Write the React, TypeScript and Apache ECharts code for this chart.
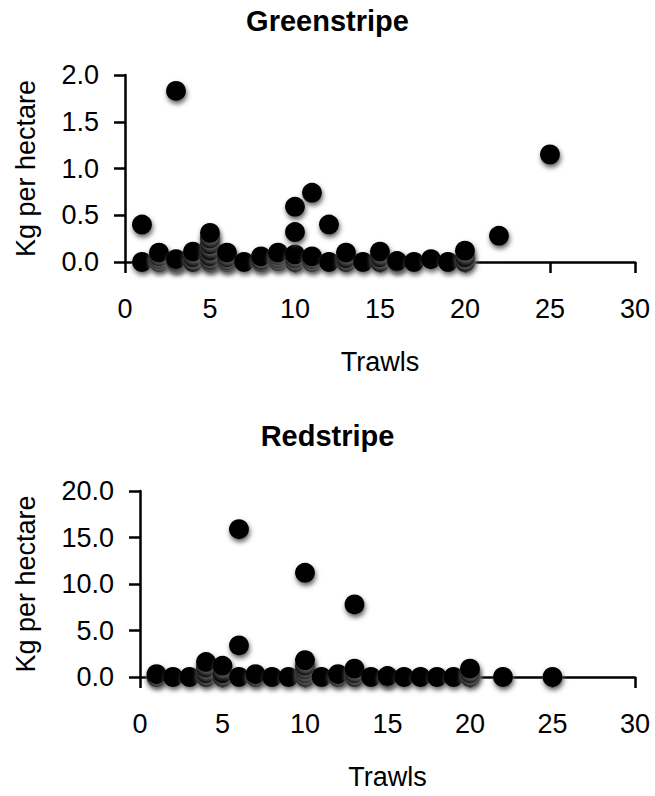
import React, { useEffect, useRef } from 'react';
import * as echarts from 'echarts';

// Greenstripe: trawl number and catch (kg per hectare)
const greenTrawls = [
  1, 1,
  2, 2, 2, 2,
  3, 3, 3, 3,
  4, 4, 4,
  5, 5, 5, 5, 5, 5, 5,
  6, 6, 6, 6,
  7,
  8, 8, 8,
  9, 9, 9, 9,
  10, 10, 10, 10, 10,
  11, 11, 11, 11,
  12, 12,
  13, 13, 13,
  14,
  15, 15, 15,
  16, 16,
  17,
  18,
  19,
  20, 20, 20,
  22,
  25,
];
const greenKg = [
  0.0, 0.40,
  0.0, 0.03, 0.06, 0.10,
  0.0, 0.01, 0.03, 1.83,
  0.0, 0.05, 0.11,
  0.0, 0.02, 0.06, 0.12, 0.19, 0.25, 0.31,
  0.0, 0.02, 0.05, 0.10,
  0.0,
  0.0, 0.02, 0.06,
  0.01, 0.04, 0.07, 0.10,
  0.0, 0.04, 0.08, 0.32, 0.59,
  0.0, 0.03, 0.06, 0.74,
  0.0, 0.40,
  0.0, 0.04, 0.10,
  0.0,
  0.0, 0.05, 0.11,
  0.0, 0.01,
  0.0,
  0.03,
  0.0,
  0.0, 0.05, 0.12,
  0.28,
  1.15,
];

// Redstripe: trawl number and catch (kg per hectare)
const redTrawls = [
  1, 1,
  2,
  3,
  4, 4, 4, 4,
  5, 5, 5,
  6, 6, 6,
  7, 7,
  8,
  9,
  10, 10, 10, 10, 10, 10,
  11,
  12, 12,
  13, 13, 13, 13,
  14,
  15, 15,
  16,
  17,
  18,
  19,
  20, 20, 20,
  22,
  25,
];
const redKg = [
  0.0, 0.3,
  0.0,
  0.0,
  0.0, 0.4, 1.0, 1.6,
  0.0, 0.4, 1.2,
  0.0, 3.4, 15.9,
  0.0, 0.3,
  0.0,
  0.0,
  0.0, 0.4, 0.8, 1.2, 1.8, 11.2,
  0.0,
  0.0, 0.3,
  0.0, 0.4, 0.9, 7.8,
  0.0,
  0.0, 0.1,
  0.0,
  0.0,
  0.0,
  0.0,
  0.0, 0.4, 0.9,
  0.0,
  0.0,
];

const xTicks = { min: 0, max: 30, interval: 5 };
const greenY = { min: 0, max: 2, interval: 0.5 };
const redY = { min: 0, max: 20, interval: 5 };

const titles = ['Greenstripe', 'Redstripe'];
const xName = 'Trawls';
const yName = 'Kg per hectare';

const FONT = 'Liberation Sans';

function pairs(xs: number[], ys: number[]) {
  return xs.map((x, i) => [x, ys[i]]);
}

function xAxis(gridIndex: number) {
  return {
    type: 'value',
    gridIndex,
    min: xTicks.min,
    max: xTicks.max,
    interval: xTicks.interval,
    name: xName,
    nameLocation: 'middle',
    nameGap: 86,
    nameTextStyle: { fontFamily: FONT, fontSize: 27, color: '#000' },
    axisLine: { show: true, lineStyle: { color: '#000', width: 2.5 } },
    axisTick: { show: true, inside: false, length: 11, lineStyle: { color: '#000', width: 2.5 } },
    axisLabel: { fontFamily: FONT, fontSize: 27, color: '#000', margin: 33 },
    splitLine: { show: false },
  };
}

function yAxis(gridIndex: number, cfg: { min: number; max: number; interval: number }, gap: number) {
  return {
    type: 'value',
    gridIndex,
    min: cfg.min,
    max: cfg.max,
    interval: cfg.interval,
    name: yName,
    nameLocation: 'middle',
    nameRotate: 90,
    nameGap: gap,
    nameTextStyle: { fontFamily: FONT, fontSize: 27, color: '#000' },
    axisLine: { show: true, lineStyle: { color: '#000', width: 2.5 } },
    axisTick: { show: true, inside: false, length: 11, lineStyle: { color: '#000', width: 2.5 } },
    axisLabel: {
      fontFamily: FONT,
      fontSize: 27,
      color: '#000',
      margin: 26,
      formatter: (v: number) => v.toFixed(1),
    },
    splitLine: { show: false },
  };
}

const markerStyle = {
  color: '#000',
  opacity: 1,
  shadowColor: '#5e5e5e',
  shadowBlur: 5,
  shadowOffsetX: 1,
  shadowOffsetY: 3,
};

export default function App() {
  const ref = useRef<HTMLDivElement>(null);
  useEffect(() => {
    const chart = echarts.init(ref.current!, null, { renderer: 'svg' });
    chart.setOption({
      animation: false,
      backgroundColor: '#fff',
      title: [
        {
          text: titles[0],
          left: 'center',
          top: 6,
          padding: 0,
          textStyle: { fontFamily: FONT, fontSize: 29, fontWeight: 'bold', color: '#000' },
        },
        {
          text: titles[1],
          left: 'center',
          top: 421,
          padding: 0,
          textStyle: { fontFamily: FONT, fontSize: 29, fontWeight: 'bold', color: '#000' },
        },
      ],
      grid: [
        { left: 125, top: 75, width: 510, height: 187 },
        { left: 140, top: 491, width: 495, height: 186 },
      ],
      xAxis: [xAxis(0), xAxis(1)],
      yAxis: [yAxis(0, greenY, 86), yAxis(1, redY, 101)],
      series: [
        {
          type: 'scatter',
          xAxisIndex: 0,
          yAxisIndex: 0,
          symbol: 'circle',
          symbolSize: 20,
          clip: false,
          itemStyle: markerStyle,
          data: pairs(greenTrawls, greenKg),
        },
        {
          type: 'scatter',
          xAxisIndex: 1,
          yAxisIndex: 1,
          symbol: 'circle',
          symbolSize: 20,
          clip: false,
          itemStyle: markerStyle,
          data: pairs(redTrawls, redKg),
        },
      ],
    });
    return () => chart.dispose();
  }, []);
  return (
    <div
      ref={ref}
      style={{ position: 'absolute', left: 0, top: 0, width: 655, height: 796, background: '#fff' }}
    />
  );
}
